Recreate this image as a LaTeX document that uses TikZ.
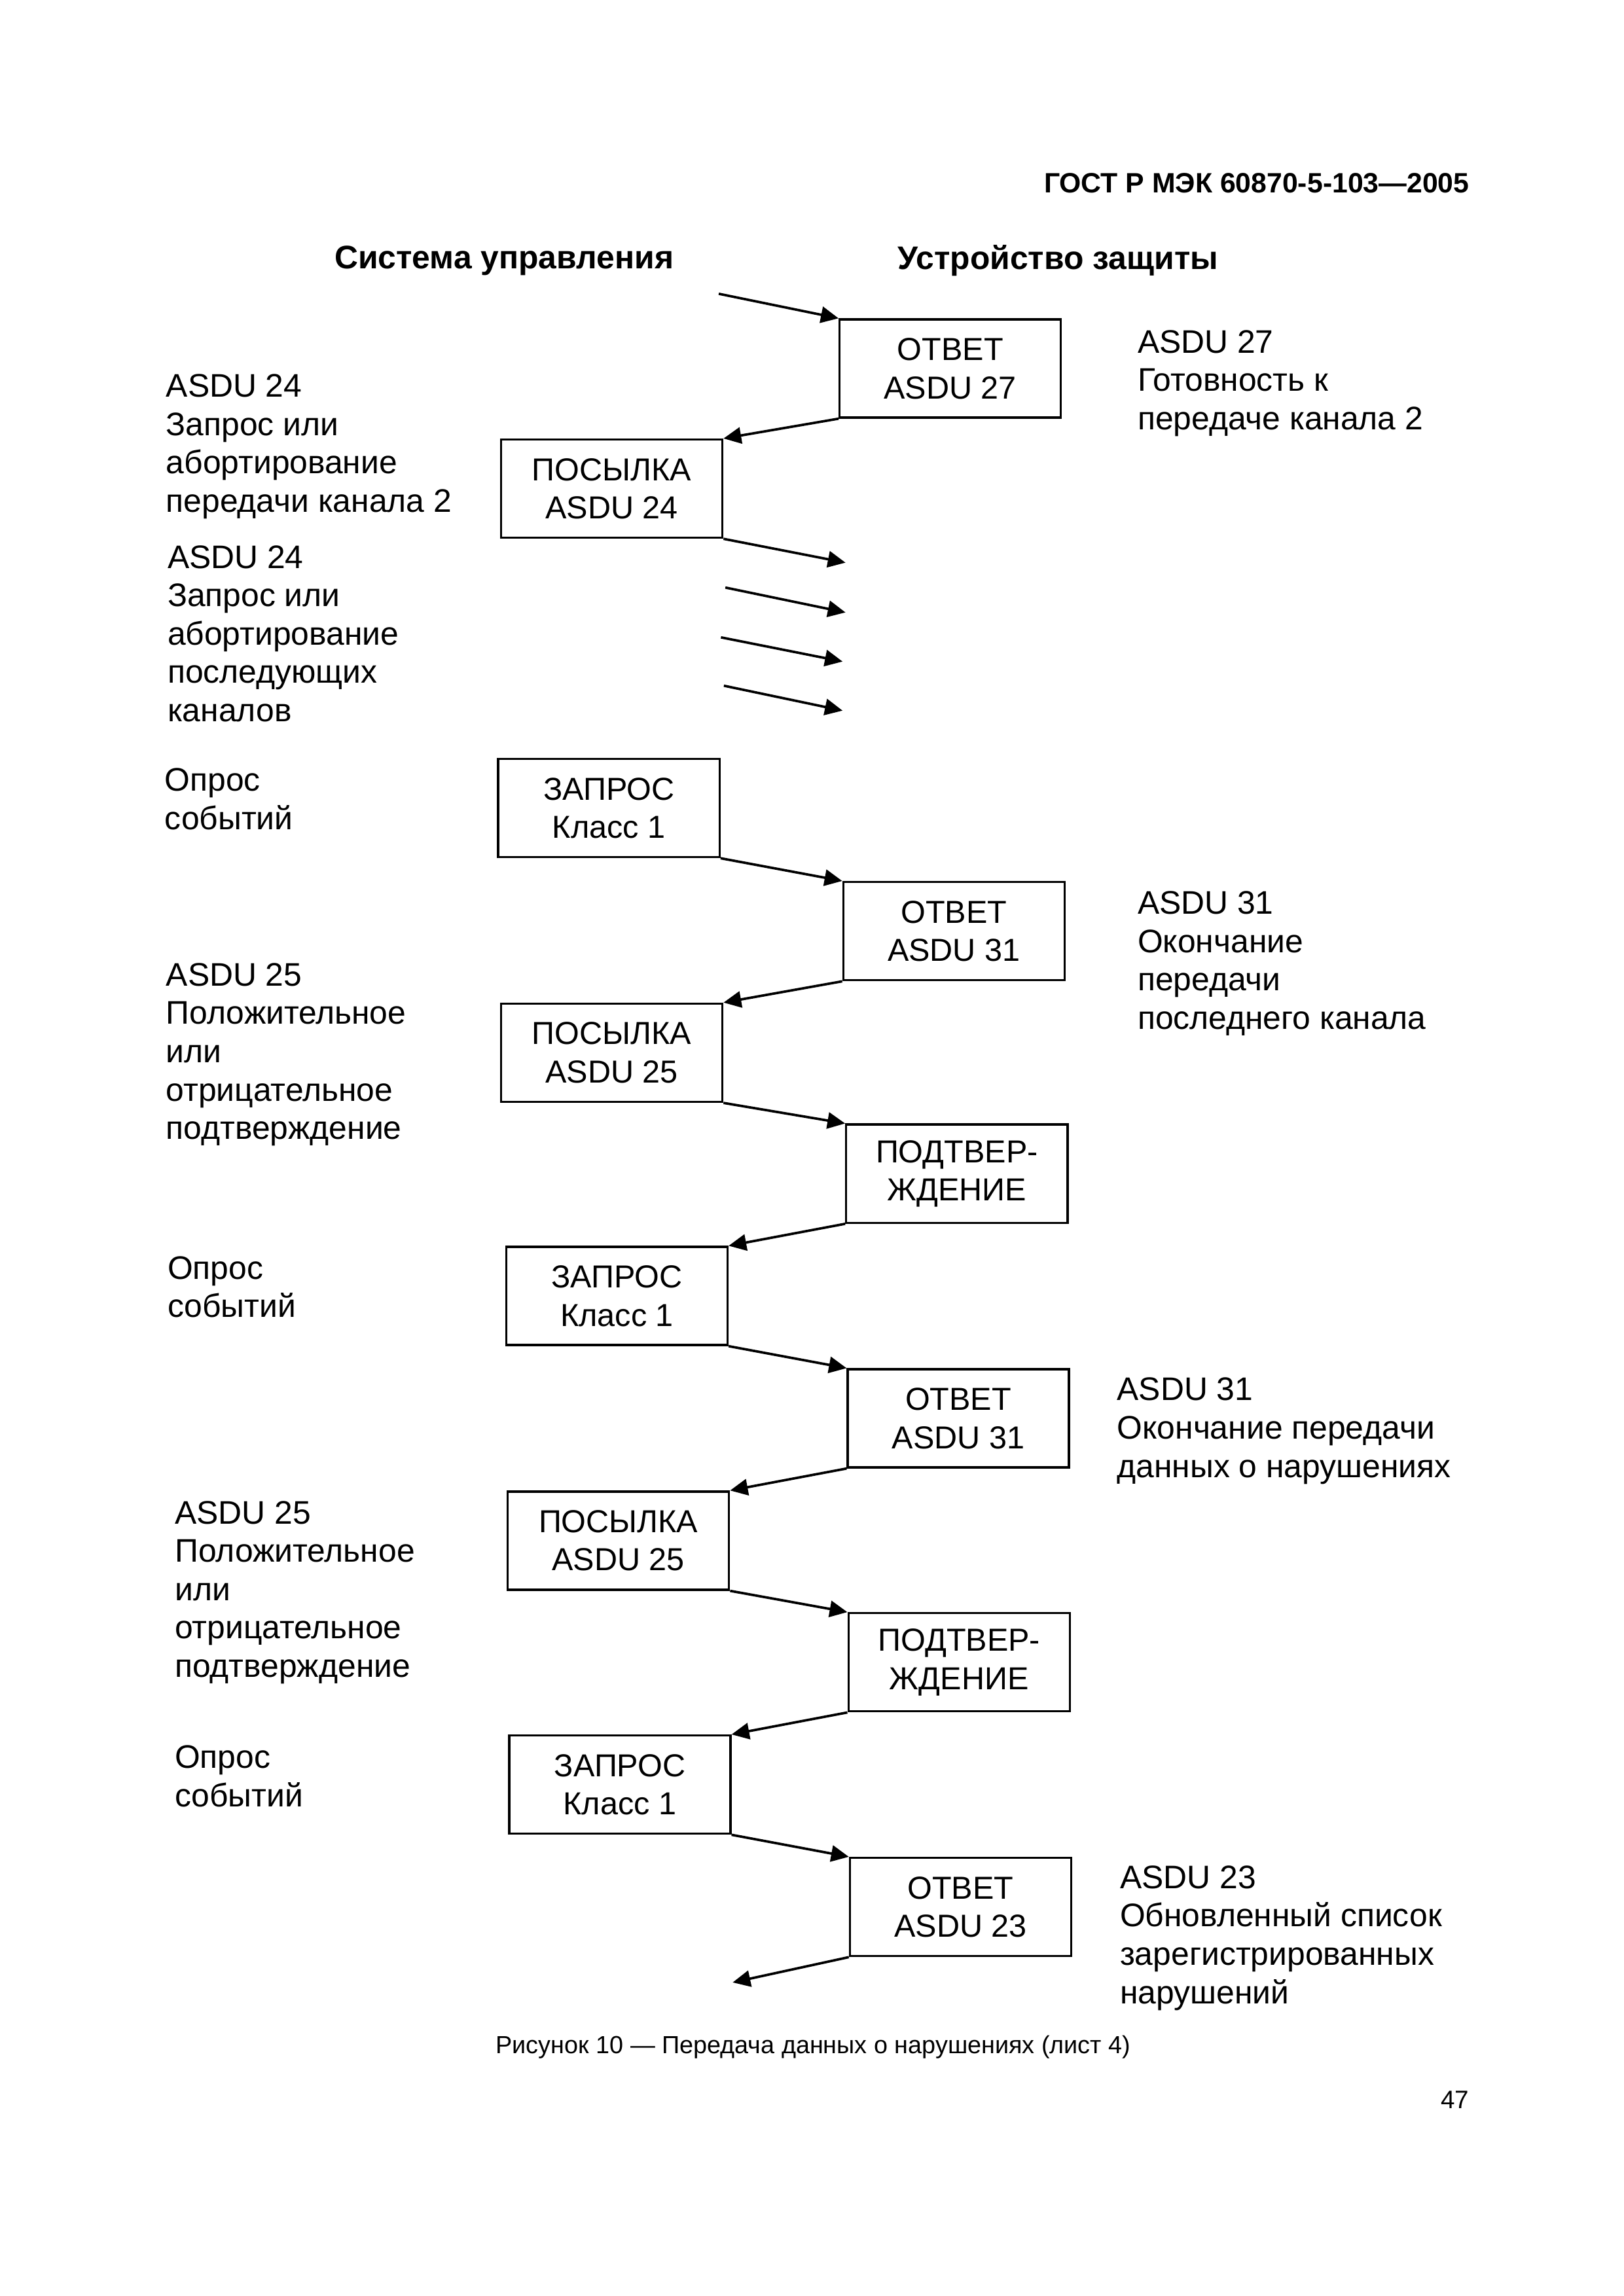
\documentclass[tikz,border=0pt]{standalone}
\usepackage{fontspec}
\setmainfont{Liberation Sans}
\usepackage{tikz}
\usetikzlibrary{arrows.meta,positioning}

\tikzset{
  blok/.style={draw, line width=0.8pt, minimum width=28.62mm, minimum height=12.70mm,
    inner sep=0pt, align=center, font=\fontsize{11.7}{14.1}\selectfont},
  lbl/.style={anchor=north west, inner sep=0pt, align=left, font=\fontsize{12}{14.1}\selectfont},
  strel/.style={line width=0.9pt, -{Triangle[length=6.5pt,width=6pt]}},
}

\begin{document}
\begin{tikzpicture}[x=0.189531mm,y=0.189531mm,yscale=-1,xscale=1]
\useasboundingbox (0,0) rectangle (1108,1567.03);

% Header
\node (gost) [anchor=east, inner sep=0pt, font=\bfseries\fontsize{10.3}{12}\selectfont] at (1003,125) {ГОСТ Р МЭК 60870-5-103—2005};
\node (sys) [font=\bfseries\fontsize{12}{14}\selectfont] at (344,178) {Система управления};
\node (ustr) [font=\bfseries\fontsize{12}{14}\selectfont] at (722,178) {Устройство защиты};

%Shape: Boxes
\node (otv27) [blok] at (648.5,251.5) {ОТВЕТ\\ASDU 27};
\node (pos24) [blok] at (417.5,333.5) {ПОСЫЛКА\\ASDU 24};
\node (zap1) [blok] at (415.5,551.5) {ЗАПРОС\\Класс 1};
\node (otv31) [blok] at (651,635.5) {ОТВЕТ\\ASDU 31};
\node (pos25) [blok] at (417.5,718.5) {ПОСЫЛКА\\ASDU 25};
\node (podt1) [blok] at (653,801) {ПОДТВЕР-\\ЖДЕНИЕ};
\node (zap2) [blok] at (421,884.5) {ЗАПРОС\\Класс 1};
\node (otv31b) [blok] at (654,968) {ОТВЕТ\\ASDU 31};
\node (pos25b) [blok] at (422,1051.5) {ПОСЫЛКА\\ASDU 25};
\node (podt2) [blok] at (654.5,1134.5) {ПОДТВЕР-\\ЖДЕНИЕ};
\node (zap3) [blok] at (423,1218) {ЗАПРОС\\Класс 1};
\node (otv23) [blok] at (655.5,1301.5) {ОТВЕТ\\ASDU 23};

%Free ends of the arrows
\coordinate (vhod) at (490.5,200.5);
\coordinate (k1) at (577,384);
\coordinate (k2a) at (495,401);
\coordinate (k2b) at (577,418);
\coordinate (k3a) at (492,435);
\coordinate (k3b) at (575,451.5);
\coordinate (k4a) at (494,468);
\coordinate (k4b) at (575,485);
\coordinate (vyhod) at (500,1353);

%Straight Lines
\draw [strel] (vhod) -- (otv27.north west);
\draw [strel] (otv27.south west) -- (pos24.north east);
\draw [strel] (pos24.south east) -- (k1);
\draw [strel] (k2a) -- (k2b);
\draw [strel] (k3a) -- (k3b);
\draw [strel] (k4a) -- (k4b);
\draw [strel] (zap1.south east) -- (otv31.north west);
\draw [strel] (otv31.south west) -- (pos25.north east);
\draw [strel] (pos25.south east) -- (podt1.north west);
\draw [strel] (podt1.south west) -- (zap2.north east);
\draw [strel] (zap2.south east) -- (otv31b.north west);
\draw [strel] (otv31b.south west) -- (pos25b.north east);
\draw [strel] (pos25b.south east) -- (podt2.north west);
\draw [strel] (podt2.south west) -- (zap3.north east);
\draw [strel] (zap3.south east) -- (otv23.north west);
\draw [strel] (otv23.south west) -- (vyhod);

% Text Node: left side
\node (l1) [lbl] at (113,255) {ASDU 24\\Запрос или\\абортирование\\передачи канала 2};
\node (l2) [lbl] at (114,372) {ASDU 24\\Запрос или\\абортирование\\последующих\\каналов};
\node (l3) [lbl] at (112,524) {Опрос\\событий};
\node (l4) [lbl] at (113,657) {ASDU 25\\Положительное\\или\\отрицательное\\подтверждение};
\node (l5) [lbl] at (114,857) {Опрос\\событий};
\node (l6) [lbl] at (119,1024) {ASDU 25\\Положительное\\или\\отрицательное\\подтверждение};
\node (l7) [lbl] at (119,1191) {Опрос\\событий};

% Text Node: right side
\node (r1) [lbl] at (776,225) {ASDU 27\\Готовность к\\передаче канала 2};
\node (r2) [lbl] at (776,608) {ASDU 31\\Окончание\\передачи\\последнего канала};
\node (r3) [lbl] at (762,940) {ASDU 31\\Окончание передачи\\данных о нарушениях};
\node (r4) [lbl] at (764,1273) {ASDU 23\\Обновленный список\\зарегистрированных\\нарушений};

% Caption and page number
\node (podpis) [font=\fontsize{9.1}{11}\selectfont] at (555,1397) {Рисунок 10 — Передача данных о нарушениях (лист 4)};
\node (stran) [font=\fontsize{9.3}{11}\selectfont] at (993,1433) {47};

\end{tikzpicture}
\end{document}
